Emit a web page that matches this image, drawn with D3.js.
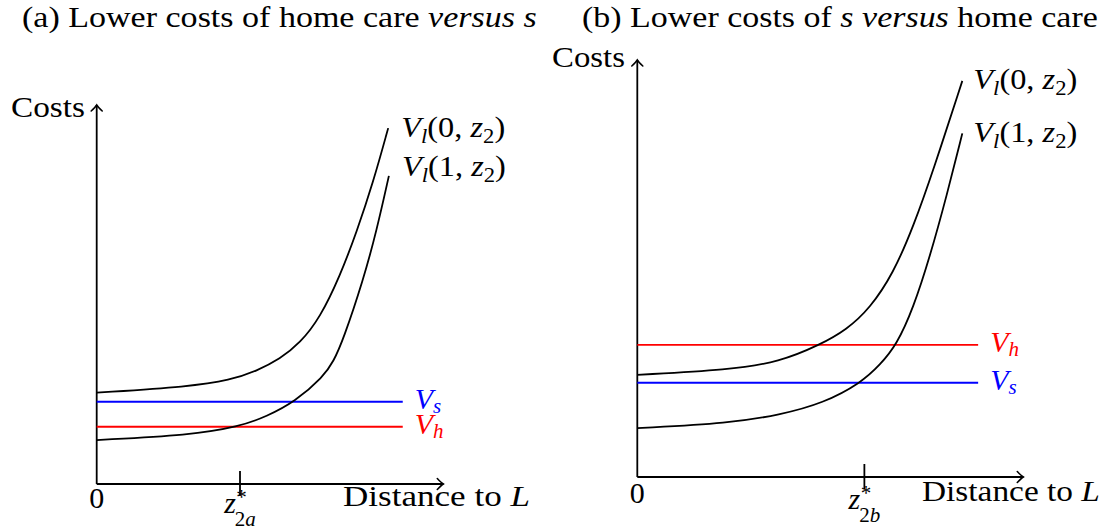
<!DOCTYPE html>
<html>
<head>
<meta charset="utf-8">
<script src="https://cdn.jsdelivr.net/npm/d3@7"></script>
<style>
  html, body { margin: 0; padding: 0; background: #fff; }
  svg { display: block; }
  text { white-space: pre; }
</style>
</head>
<body>
<svg id="chart" width="1112" height="531"></svg>
<script>
// ---- data (axis units: distance 0..10, costs 0..10) ----
// Panel (a): lower costs of home care versus s
const lossA0 = [[0, 2.41], [2.69, 2.57], [3.85, 2.74], [4.61, 2.98], [5.29, 3.30], [5.87, 3.72], [6.44, 4.38], [7.02, 5.49], [7.50, 6.65], [7.98, 7.97], [8.41, 9.39]];
const lossA1 = [[0, 1.16], [2.69, 1.29], [4.10, 1.51], [4.90, 1.78], [5.72, 2.17], [6.54, 2.83], [6.83, 3.23], [7.11, 3.80], [7.69, 5.38], [8.08, 6.70], [8.43, 8.13]];
const levelsA = [2.17, 1.51];          // V_s, V_h
const levelNamesA = ["s", "h"];
const thresholdA = 4.12;               // z*_{2a}

// Panel (b): lower costs of s versus home care
const lossB0 = [[0, 2.45], [2.38, 2.57], [3.69, 2.76], [4.73, 3.17], [5.42, 3.53], [6.03, 4.05], [6.63, 4.88], [7.15, 6.00], [7.67, 7.36], [8.42, 9.50]];
const lossB1 = [[0, 1.17], [2.40, 1.29], [3.69, 1.49], [4.82, 1.77], [5.80, 2.26], [6.29, 2.69], [6.72, 3.17], [7.15, 4.05], [7.58, 5.28], [8.02, 6.76], [8.42, 8.24]];
const levelsB = [3.17, 2.26];          // V_h, V_s
const levelNamesB = ["h", "s"];
const thresholdB = 5.87;               // z*_{2b}

const levelEnd = 8.83;                 // horizontal cost lines run from 0 to here
const curveArgs = ["0", "1"];          // V_l(0, z2), V_l(1, z2)
const levelColors = { s: "#0000ff", h: "#ff0000" };

const titleA = [{ t: "(a) Lower costs of home care " }, { t: "versus", it: true }, { t: " " }, { t: "s", it: true }];
const titleB = [{ t: "(b) Lower costs of " }, { t: "s", it: true }, { t: " " }, { t: "versus", it: true }, { t: " home care" }];

// ---- drawing helpers ----
const FONT = "'Liberation Serif', 'Times New Roman', 'DejaVu Serif', serif";
const svg = d3.select("#chart").attr("font-family", FONT);
const BIG = 30, SMALL = 21, SUB = 6;

function mathText(parent, x, y, parts, color, subShift) {
  const sh = subShift === undefined ? SUB : subShift;
  const t = parent.append("text").attr("x", x).attr("y", y)
    .attr("font-family", FONT).attr("fill", color || "#000");
  let shift = 0;
  parts.forEach(p => {
    const ts = t.append("tspan").text(p.t).attr("font-size", p.sub ? SMALL : BIG);
    if (p.it) ts.attr("font-style", "italic");
    const target = p.sub ? sh : 0;
    if (target !== shift) { ts.attr("dy", target - shift); shift = target; }
  });
  return t;
}

// stretch a text element horizontally so that it spans [left, right]
function fitX(sel, left, right) {
  const bb = sel.node().getBBox();
  const s = (right - left) / bb.width;
  sel.attr("transform", `translate(${left},0) scale(${s},1) translate(${-bb.x},0)`);
}

function arrowHead(g, tx, ty, dir) {
  // open "to" arrow tip
  const p = dir === "right"
    ? `M${tx - 6},${ty - 5.5} Q${tx - 2},${ty - 1.2} ${tx},${ty} Q${tx - 2},${ty + 1.2} ${tx - 6},${ty + 5.5}`
    : `M${tx - 5.5},${ty + 6} Q${tx - 1.2},${ty + 2} ${tx},${ty} Q${tx + 1.2},${ty + 2} ${tx + 5.5},${ty + 6}`;
  g.append("path").attr("d", p).attr("fill", "none").attr("stroke", "#000")
    .attr("stroke-width", 1.6).attr("stroke-linecap", "round");
}

function drawPanel(cfg) {
  const g = svg.append("g");
  const x = d3.scaleLinear().domain([0, 10]).range(cfg.xRange);
  const y = d3.scaleLinear().domain([0, 10]).range(cfg.yRange);
  const x0 = x(0), y0 = y(0);

  // threshold tick on the distance axis
  const axis = d3.axisBottom(x).tickValues([cfg.threshold]).tickFormat(() => "")
    .tickSizeInner(12).tickSizeOuter(0);
  const ax = g.append("g").attr("transform", `translate(0,${y0})`).call(axis);
  ax.select(".domain").remove();
  ax.selectAll(".tick line").attr("y1", -13).attr("stroke", "#000").attr("stroke-width", 1.8);

  // axes with arrows
  g.append("line").attr("x1", x0).attr("y1", y0).attr("x2", x(10)).attr("y2", y0)
    .attr("stroke", "#000").attr("stroke-width", 1.8);
  g.append("line").attr("x1", x0).attr("y1", y0).attr("x2", x0).attr("y2", y(10))
    .attr("stroke", "#000").attr("stroke-width", 1.8);
  arrowHead(g, x(10), y0, "right");
  arrowHead(g, x0, y(10), "up");

  // horizontal costs V_s / V_h
  cfg.levels.forEach((v, i) => {
    const name = cfg.levelNames[i];
    g.append("line").attr("x1", x0).attr("x2", x(levelEnd)).attr("y1", y(v)).attr("y2", y(v))
      .attr("stroke", levelColors[name]).attr("stroke-width", 1.8);
    mathText(g, x(levelEnd) + 12, y(v) + 7,
      [{ t: "V", it: true }, { t: name, it: true, sub: true }], levelColors[name], 4);
  });

  // cost curves V_l(k, z2)
  const line = d3.line().x(d => x(d[0])).y(d => y(d[1])).curve(d3.curveBasis);
  cfg.curves.forEach((c, i) => {
    g.append("path").datum(c).attr("d", line).attr("fill", "none")
      .attr("stroke", "#000").attr("stroke-width", 1.8);
    const end = c[c.length - 1];
    const lx = x(end[0]) + cfg.labelDx;
    const lab = mathText(g, 0, y(end[1]) + cfg.labelDy[i], [
      { t: "V", it: true }, { t: "l", it: true, sub: true }, { t: "(" + curveArgs[i] + ", " },
      { t: "z", it: true }, { t: "2", sub: true }, { t: ")" }
    ]);
    fitX(lab, lx, lx + 104);
  });

  // titles and axis names
  fitX(mathText(g, 0, 27, cfg.title), cfg.titleSpan[0], cfg.titleSpan[1]);
  fitX(mathText(g, 0, cfg.costsBase, [{ t: "Costs" }]), cfg.costsSpan[0], cfg.costsSpan[1]);
  fitX(mathText(g, 0, cfg.distBase, [{ t: "Distance to " }, { t: "L", it: true }]), cfg.distSpan[0], cfg.distSpan[1]);

  g.append("text").attr("x", x0).attr("y", cfg.zeroBase).attr("text-anchor", "middle")
    .attr("font-family", FONT).attr("font-size", BIG).text("0");

  // z*_{2a} / z*_{2b} label under the tick
  const lg = g.append("g").attr("font-family", FONT);
  const zt = lg.append("text").attr("x", 0).attr("y", 0).attr("font-size", BIG)
    .attr("font-style", "italic").text("z");
  const zw = zt.node().getComputedTextLength();
  lg.append("text").attr("x", zw + 0.5).attr("y", -9).attr("font-size", SMALL).text("*");
  const sub = lg.append("text").attr("x", zw - 1).attr("y", 13).attr("font-size", SMALL);
  sub.append("tspan").text("2");
  sub.append("tspan").attr("font-style", "italic").text(cfg.subLetter);
  const bb = lg.node().getBBox();
  lg.attr("transform", `translate(${x(cfg.threshold) - bb.x - bb.width / 2},${cfg.zBase})`);
}

drawPanel({
  xRange: [96.7, 443.3], yRange: [484, 105],
  curves: [lossA0, lossA1], levels: levelsA, levelNames: levelNamesA, threshold: thresholdA,
  labelDx: 13, labelDy: [9, 0], title: titleA, titleSpan: [22, 537],
  costsBase: 117, costsSpan: [11, 85], distBase: 506, distSpan: [343, 530],
  zeroBase: 508, zBase: 513, subLetter: "a"
});

drawPanel({
  xRange: [637.3, 1023.3], yRange: [477, 60],
  curves: [lossB0, lossB1], levels: levelsB, levelNames: levelNamesB, threshold: thresholdB,
  labelDx: 11, labelDy: [8, 9], title: titleB, titleSpan: [582, 1098],
  costsBase: 67, costsSpan: [552, 625], distBase: 501, distSpan: [922, 1100],
  zeroBase: 503, zBase: 509, subLetter: "b"
});
</script>
</body>
</html>
